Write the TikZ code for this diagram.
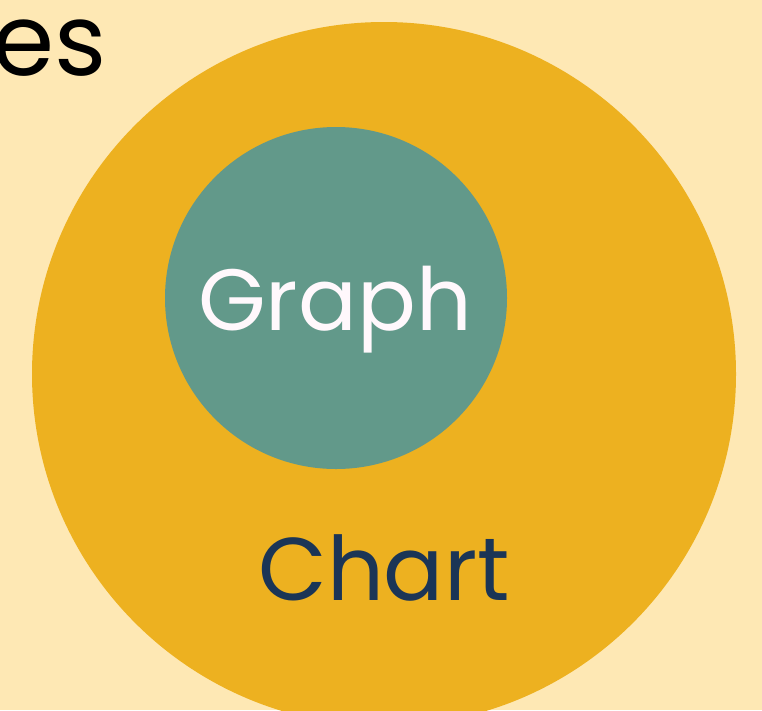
\documentclass[tikz,border=0pt]{standalone}
\usepackage{fontspec}
\setmainfont{Poppins}
\definecolor{bgcream}{HTML}{FEE8B4}
\definecolor{outergold}{HTML}{EDB120}
\definecolor{innerteal}{HTML}{62998A}
\definecolor{labelnavy}{HTML}{1B3556}
\definecolor{labelwhite}{HTML}{FFF8FC}
\tikzset{
  disc/.style={circle, inner sep=0pt, draw=none},
  biglabel/.style={inner sep=0pt, font=\fontsize{89}{89}\selectfont}
}
\begin{document}
\begin{tikzpicture}[x=1pt, y=-1pt]
  % canvas
  \fill[bgcream] (0,0) rectangle (762,710);
  \useasboundingbox (0,0) rectangle (762,710);
  \begin{scope}
    \clip (0,0) rectangle (762,710);
    % outer set
    \node[disc, fill=outergold, minimum size=704pt] (chart) at (384,374) {};
    % inner set
    \node[disc, fill=innerteal, minimum size=342pt] (graph) at (336,298) {};
    % labels
    \node[biglabel, font=\fontsize{87}{87}\selectfont, text=labelwhite, anchor=base] (graphlabel) at (335,330) {Graph};
    \node[biglabel, text=labelnavy, anchor=base] (chartlabel) at (384,600) {Chart};
    \node[biglabel, font=\fontsize{100}{100}\selectfont, text=black, anchor=base east] (tail) at (107,75) {es};
  \end{scope}
\end{tikzpicture}
\end{document}
